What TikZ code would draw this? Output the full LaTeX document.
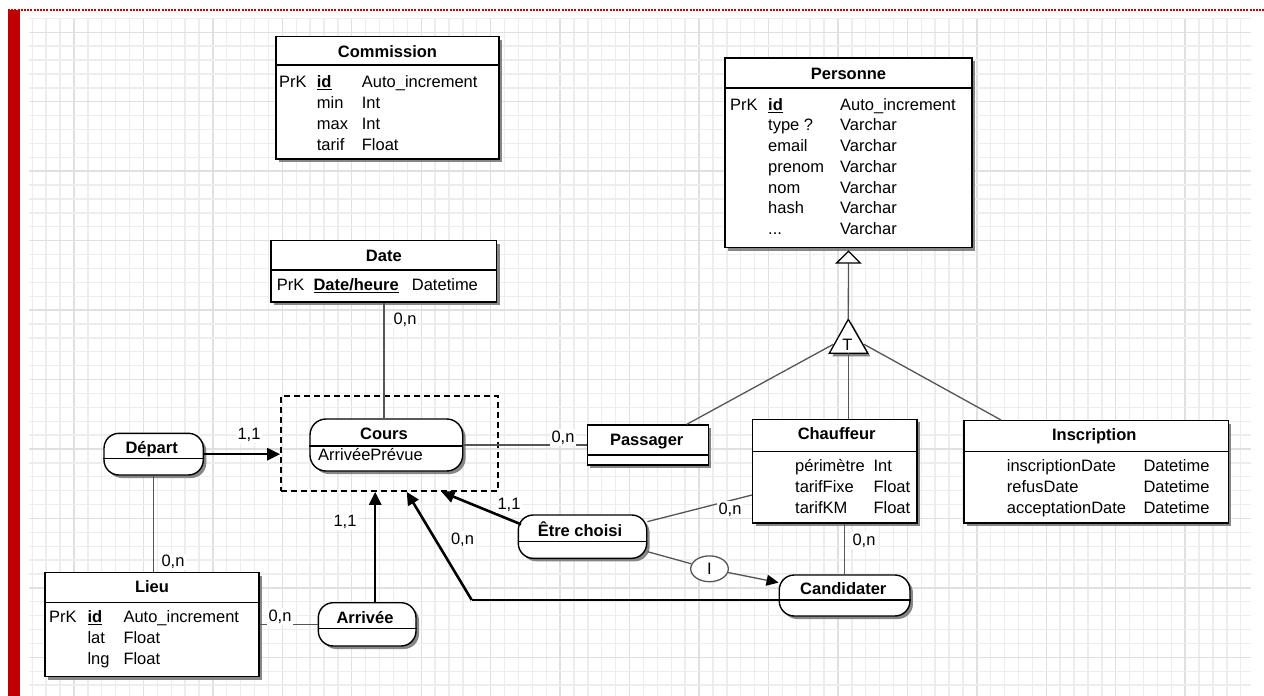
\documentclass[tikz,border=0pt]{standalone}
\usepackage{fontspec}
\setmainfont{Liberation Sans}
\usetikzlibrary{arrows.meta,shadows,shapes.geometric}
\definecolor{redbar}{HTML}{C00000}
\definecolor{gridminor}{HTML}{EDEDED}
\definecolor{gridmajor}{HTML}{E0E0E0}
\definecolor{connc}{HTML}{555555}
\newcommand{\fsz}{\fontsize{16.5pt}{19pt}\selectfont}
\begin{document}
\begin{tikzpicture}[x=1pt,y=-1pt,
  tbl/.style={draw=black, line width=1.4pt, fill=white, inner sep=0pt,
    drop shadow={shadow xshift=3pt, shadow yshift=-3pt, fill=black!55, opacity=.85}},
  rel/.style={tbl, rounded corners=15pt},
  sepl/.style={draw=black, line width=1.3pt},
  hdr/.style={font=\fsz\bfseries, inner sep=0pt, anchor=base},
  attr/.style={font=\fsz, inner sep=0pt, anchor=base west},
  card/.style={font=\fsz, fill=white, inner sep=1.5pt, anchor=base},
  conn/.style={draw=connc, line width=1.3pt},
  strong/.style={draw=black, line width=2.6pt, -{Triangle[length=13pt,width=12pt]}},
]
\useasboundingbox (0,0) rectangle (1264,696);
\fill[white] (0,0) rectangle (1264,696);
% grid
\begin{scope}
\clip (29,18) rectangle (1251,696);
\foreach \k in {0,...,87} {
  \pgfmathsetmacro{\xx}{32.3+13.89*\k}
  \pgfmathtruncatemacro{\mm}{mod(\k,5)}
  \ifnum\mm=3 \draw[gridmajor, line width=1.4pt] (\xx,18) -- (\xx,696);
  \else \draw[gridminor, line width=1.4pt] (\xx,18) -- (\xx,696); \fi
}
\foreach \k in {0,...,49} {
  \pgfmathsetmacro{\yy}{18.4+13.89*\k}
  \pgfmathtruncatemacro{\mm}{mod(\k,5)}
  \ifnum\mm=1 \draw[gridmajor, line width=1.4pt] (29,\yy) -- (1251,\yy);
  \else \draw[gridminor, line width=1.4pt] (29,\yy) -- (1251,\yy); \fi
}
\end{scope}
% red frame
\fill[redbar] (8,10) rectangle (20,696);
\draw[redbar, line width=1.6pt, dash pattern=on 2pt off 1.2pt] (8,10) -- (1264,10);

% ---------- Commission ----------
\node[tbl, minimum width=223pt, minimum height=122.3pt] (commission) at (387.5,97.85) {};
\draw[sepl] (commission.west |- 0,65) -- (commission.east |- 0,65);
\node[hdr] (commissionH) at (387.5,57) {Commission};
\node[attr] (cm1k) at (279,87.6) {PrK};
\node[attr] (cm1n) at (316.7,87.6) {\underline{\textbf{id}}};
\node[attr] (cm1t) at (361.7,87.6) {Auto\_increment};
\node[attr] (cm2n) at (316.7,108.4) {min};
\node[attr] (cm2t) at (361.7,108.4) {Int};
\node[attr] (cm3n) at (316.7,129.2) {max};
\node[attr] (cm3t) at (361.7,129.2) {Int};
\node[attr] (cm4n) at (316.7,150) {tarif};
\node[attr] (cm4t) at (361.7,150) {Float};

% ---------- Personne ----------
\node[tbl, minimum width=247pt, minimum height=189.7pt] (personne) at (848.5,152.85) {};
\draw[sepl] (personne.west |- 0,88) -- (personne.east |- 0,88);
\node[hdr] (personneH) at (848.5,79) {Personne};
\node[attr] (p1k) at (730,110.2) {PrK};
\node[attr] (p1n) at (768,110.2) {\underline{\textbf{id}}};
\node[attr] (p1t) at (840,110.2) {Auto\_increment};
\node[attr] (p2n) at (768,130.9) {type ?};
\node[attr] (p2t) at (840,130.9) {Varchar};
\node[attr] (p3n) at (768,151.6) {email};
\node[attr] (p3t) at (840,151.6) {Varchar};
\node[attr] (p4n) at (768,172.3) {prenom};
\node[attr] (p4t) at (840,172.3) {Varchar};
\node[attr] (p5n) at (768,193) {nom};
\node[attr] (p5t) at (840,193) {Varchar};
\node[attr] (p6n) at (768,213.7) {hash};
\node[attr] (p6t) at (840,213.7) {Varchar};
\node[attr] (p7n) at (768,234.4) {...};
\node[attr] (p7t) at (840,234.4) {Varchar};

% ---------- Date ----------
\node[tbl, minimum width=225.7pt, minimum height=61.3pt] (date) at (383.85,271.35) {};
\draw[sepl] (date.west |- 0,270) -- (date.east |- 0,270);
\node[hdr] (dateH) at (383.85,261) {Date};
\node[attr] (d1k) at (276.7,290.6) {PrK};
\node[attr] (d1n) at (313.3,290.6) {\underline{\textbf{Date/heure}}};
\node[attr] (d1t) at (411.7,290.6) {Datetime};

% ---------- Cours ----------
\node[draw=black, line width=1.6pt, dash pattern=on 6pt off 4pt, minimum width=217pt, minimum height=95pt, inner sep=0pt] (coursgrp) at (389.5,443.5) {};
\node[rel, rounded corners=16pt, minimum width=152.7pt, minimum height=52pt] (cours) at (386.35,445) {};
\draw[sepl] (cours.west |- 0,446) -- (cours.east |- 0,446);
\node[hdr] (coursH) at (384,439.2) {Cours};
\node[attr] (coursA) at (318,460.2) {ArrivéePrévue};

% ---------- Depart ----------
\node[rel, minimum width=99.3pt, minimum height=41.7pt] (depart) at (153.65,454.15) {};
\draw[sepl] (depart.west |- 0,458.3) -- (depart.east |- 0,458.3);
\node[hdr] (departH) at (151.7,453.2) {Départ};

% ---------- Lieu ----------
\node[tbl, minimum width=214pt, minimum height=104pt] (lieu) at (152,624.7) {};
\draw[sepl] (lieu.west |- 0,602.7) -- (lieu.east |- 0,602.7);
\node[hdr] (lieuH) at (152,592.6) {Lieu};
\node[attr] (l1k) at (49,622.6) {PrK};
\node[attr] (l1n) at (87.3,622.6) {\underline{\textbf{id}}};
\node[attr] (l1t) at (123.3,622.6) {Auto\_increment};
\node[attr] (l2n) at (87.3,643.5) {lat};
\node[attr] (l2t) at (123.3,643.5) {Float};
\node[attr] (l3n) at (87.3,664.3) {lng};
\node[attr] (l3t) at (123.3,664.3) {Float};

% ---------- Arrivee ----------
\node[rel, minimum width=97.7pt, minimum height=43.3pt] (arrivee) at (367.15,624.35) {};
\draw[sepl] (arrivee.west |- 0,628.3) -- (arrivee.east |- 0,628.3);
\node[hdr] (arriveeH) at (365,623.2) {Arrivée};

% ---------- Etre choisi ----------
\node[rel, minimum width=128.4pt, minimum height=43.3pt] (etre) at (582.5,536.65) {};
\draw[sepl] (etre.west |- 0,541.7) -- (etre.east |- 0,541.7);
\node[hdr] (etreH) at (580,536.9) {Être choisi};

% ---------- Passager ----------
\node[tbl, minimum width=121pt, minimum height=40pt] (passager) at (647.8,445) {};
\draw[sepl] (passager.west |- 0,455) -- (passager.east |- 0,455);
\node[hdr] (passagerH) at (646.7,445.2) {Passager};

% ---------- Chauffeur ----------
\node[tbl, minimum width=164.3pt, minimum height=103.7pt] (chauffeur) at (834.85,471.15) {};
\draw[sepl] (chauffeur.west |- 0,451.7) -- (chauffeur.east |- 0,451.7);
\node[hdr] (chauffeurH) at (836.7,439.2) {Chauffeur};
\node[attr] (ch1n) at (795,471) {périmètre};
\node[attr] (ch1t) at (873.3,471) {Int};
\node[attr] (ch2n) at (795,492.2) {tarifFixe};
\node[attr] (ch2t) at (873.3,492.2) {Float};
\node[attr] (ch3n) at (795,513.4) {tarifKM};
\node[attr] (ch3t) at (873.3,513.4) {Float};

% ---------- Inscription ----------
\node[tbl, minimum width=264.3pt, minimum height=102.3pt] (inscription) at (1096.15,471.85) {};
\draw[sepl] (inscription.west |- 0,451.7) -- (inscription.east |- 0,451.7);
\node[hdr] (inscriptionH) at (1094.3,440.9) {Inscription};
\node[attr] (in1n) at (1006.7,471) {inscriptionDate};
\node[attr] (in1t) at (1143.3,471) {Datetime};
\node[attr] (in2n) at (1006.7,492.2) {refusDate};
\node[attr] (in2t) at (1143.3,492.2) {Datetime};
\node[attr] (in3n) at (1006.7,513.4) {acceptationDate};
\node[attr] (in3t) at (1143.3,513.4) {Datetime};

% ---------- Candidater ----------
\node[rel, minimum width=130.7pt, minimum height=41pt] (cand) at (844.6,595.5) {};
\draw[sepl] (cand.west |- 0,600) -- (cand.east |- 0,600);
\node[hdr] (candH) at (843.3,594.9) {Candidater};

% ---------- I circle ----------
\node[draw=connc, line width=1.3pt, fill=white, ellipse, minimum width=37.6pt, minimum height=25.8pt, inner sep=0pt] (iell) at (709.5,568.8) {};
\node[font=\fsz, inner sep=0pt, anchor=base] (iellT) at (709.5,574.7) {I};

% ---------- T triangle ----------
\coordinate (tapex) at (848.3,319.3);
\coordinate (tleft) at (833.3,344.3);
\coordinate (tright) at (864,344.3);
\coordinate (tbase) at (848.3,353.3);
\fill[black!50] (851.3,322.3) -- (870.3,356.3) -- (832.3,356.3) -- cycle;
\draw[line width=1.3pt, fill=white] (tapex) -- (867.8,353.3) -- (829.3,353.3) -- cycle;
\node[font=\fsz, inner sep=0pt, anchor=base] (tT) at (847.5,350.5) {T};

% ---------- connectors ----------
\draw[conn, -{Triangle[fill=white, color=black, length=13.3pt, width=26.7pt]}] (tapex) -- ([yshift=-2pt]personne.south);
\coordinate (passtop) at ([xshift=39pt]passager.north);
\coordinate (instop) at ([xshift=37.7pt]inscription.north west);
\draw[conn] (tleft) -- (passtop);
\draw[conn] (tright) -- (instop);
\draw[conn] (tbase) -- (tbase |- chauffeur.north);

\draw[conn] (date.south) -- (date.south |- cours.north);
\draw[conn] (cours.east) -- (passager.west);
\draw[conn] (depart.south) -- (depart.south |- lieu.north);
\draw[conn] (lieu.east |- arrivee.west) -- (arrivee.west);
\coordinate (etreNE) at ([yshift=15pt]etre.east);
\coordinate (etreSE) at ([yshift=-15pt]etre.east);
\coordinate (chaufW) at ([yshift=-23.85pt]chauffeur.west);
\draw[conn] (etreNE) -- (chaufW);
\draw[conn] (etreSE) -- (iell);
\coordinate (candtip) at ([yshift=-8.3pt]cand.north west);
\draw[conn, -{Triangle[color=black, length=12pt, width=11pt]}] (iell) -- (candtip);
\draw[conn] (cand.north) -- (cand.north |- chauffeur.south);

\draw[strong] (depart.east) -- (depart.east -| coursgrp.west);
\coordinate (arrtop) at ([xshift=8pt]arrivee.north);
\draw[strong] (arrtop) -- (arrtop |- coursgrp.south);
\coordinate (etreNW) at ([xshift=3.4pt,yshift=-10pt]etre.north west);
\coordinate (etretip) at ([xshift=52pt]coursgrp.south);
\draw[strong] (etreNW) -- (etretip);
\coordinate (candW) at ([yshift=-4.5pt]cand.west);
\coordinate (bend) at (471.7,600);
\coordinate (candtip2) at ([xshift=17.2pt]coursgrp.south);
\draw[draw=black, line width=2pt] (candW) -- (bend);
\draw[strong] (bend) -- (candtip2);

% ---------- cardinalities ----------
\node[card] (k1) at (405,324) {0,n};
\node[card] (k2) at (249,439) {1,1};
\node[card] (k3) at (173,566.6) {0,n};
\node[card] (k4) at (280,621) {0,n};
\node[card] (k5) at (345,526) {1,1};
\node[card] (k6) at (563,442) {0,n};
\node[card] (k7) at (509,509) {1,1};
\node[card] (k8) at (730,514) {0,n};
\node[card] (k9) at (864,545) {0,n};
\node[card] (k10) at (462.5,544) {0,n};
\end{tikzpicture}
\end{document}
